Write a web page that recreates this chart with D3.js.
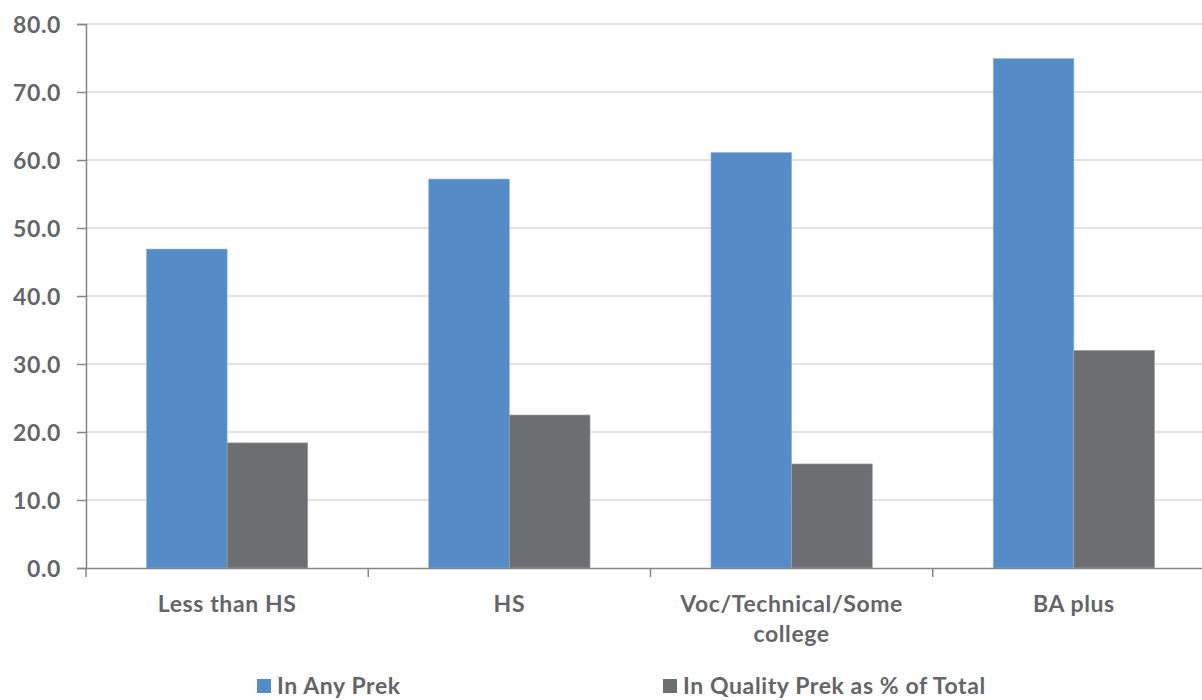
<!DOCTYPE html>
<html><head><meta charset="utf-8">
<script src="https://cdn.jsdelivr.net/npm/d3@7"></script>
<style>body{margin:0;background:#fff}svg{display:block}text{font-family:Lato,"Open Sans",sans-serif;font-weight:700;fill:#646569;letter-spacing:0.6px}</style>
</head><body><svg id="c" width="1202" height="700"></svg>
<script>
const categories = ["Less than HS", "HS", "Voc/Technical/Some college", "BA plus"];
const seriesNames = ["In Any Prek", "In Quality Prek as % of Total"];
const anyPrek = [46.9, 57.2, 61.1, 74.9];
const qualityPrek = [18.4, 22.5, 15.3, 32.0];
const yTicks = [0, 10, 20, 30, 40, 50, 60, 70, 80];
const colors = ["#558bc6", "#6d6e71"];

(function () {
const svg = d3.select("#c");
const mLeft = 86, mRight = 1215, mTop = 24, mBottom = 568;
const x0 = d3.scaleBand().domain(categories).range([mLeft, mRight]).paddingInner(0).paddingOuter(0);
const x1 = d3.scaleBand().domain(seriesNames).range([0, x0.bandwidth()]).paddingInner(0).paddingOuter(0.75);
const y = d3.scaleLinear().domain([0, 80]).range([mBottom, mTop]);

// gridlines
svg.append("g").selectAll("line").data(yTicks.filter(d => d > 0)).join("line")
  .attr("x1", mLeft).attr("x2", mRight).attr("y1", d => y(d)).attr("y2", d => y(d))
  .attr("stroke", "#d9d9d9").attr("stroke-width", 1.5);

// bars
const series = [anyPrek, qualityPrek];
const g = svg.append("g");
categories.forEach((c, i) => {
  seriesNames.forEach((s, j) => {
    g.append("rect")
      .attr("x", x0(c) + x1(s)).attr("width", x1.bandwidth())
      .attr("y", y(series[j][i])).attr("height", y(0) - y(series[j][i]))
      .attr("fill", colors[j]).attr("stroke", j === 0 ? "#8fb4dd" : "#a0a1a3").attr("stroke-width", 0.6);
  });
});

// y axis
const ya = svg.append("g").attr("transform", `translate(${mLeft},0)`)
  .call(d3.axisLeft(y).tickValues(yTicks).tickFormat(d3.format(".1f")).tickSize(9).tickPadding(16));
ya.select(".domain").attr("stroke", "#868686").attr("stroke-width", 1.5);
ya.selectAll(".tick line").attr("stroke", "#868686").attr("stroke-width", 1.5);
ya.selectAll(".tick text").style("font-size", "23px").attr("fill", "#646569").attr("dy", "0.35em")
  .style("font-family", "Lato, sans-serif");

// x axis
const xa = svg.append("g").attr("transform", `translate(0,${mBottom})`)
  .call(d3.axisBottom(x0).tickSize(0).tickPadding(0));
xa.select(".domain").attr("stroke", "#868686").attr("stroke-width", 1.5);
xa.selectAll(".tick text").remove();
const bounds = categories.map(c => x0(c)).concat([mRight]);
xa.append("g").selectAll("line").data(bounds).join("line")
  .attr("x1", d => d).attr("x2", d => d).attr("y1", 0).attr("y2", 9)
  .attr("stroke", "#868686").attr("stroke-width", 1.5);

// category labels with wrapping
const labelG = svg.append("g");
categories.forEach(c => {
  const cx = x0(c) + x0.bandwidth() / 2;
  const t = labelG.append("text").attr("text-anchor", "middle")
    .attr("x", cx).attr("y", 612).style("font-size", "23px");
  const words = c.split(" ");
  let line = [];
  let ts = t.append("tspan").attr("x", cx).attr("dy", 0);
  words.forEach(w => {
    line.push(w);
    ts.text(line.join(" "));
    if (ts.node().getComputedTextLength() > 250 && line.length > 1) {
      line.pop(); ts.text(line.join(" "));
      line = [w];
      ts = t.append("tspan").attr("x", cx).attr("dy", 30).text(w);
    }
  });
});

// legend
const legendX = [257, 663];
const lg = svg.append("g");
seriesNames.forEach((s, j) => {
  lg.append("rect").attr("x", legendX[j]).attr("y", 679).attr("width", 14).attr("height", 14).attr("fill", colors[j]);
  lg.append("text").attr("x", legendX[j] + 20).attr("y", 694).style("font-size", "23px").text(s);
});
})();
</script></body></html>
